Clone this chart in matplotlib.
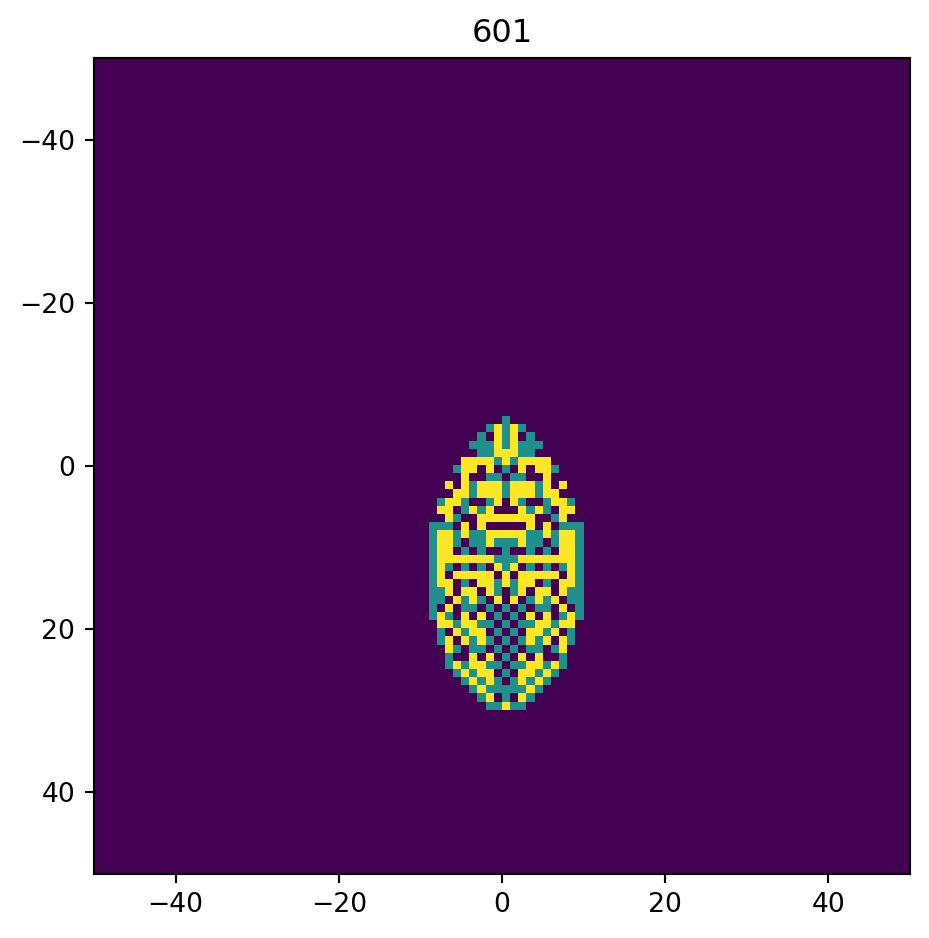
import numpy as np
import matplotlib
matplotlib.use("Agg")
import matplotlib.pyplot as plt

title = "601"
first_row = -6
# Right half of each row, from the centre column outwards: 0 empty, 1 teal, 2 yellow
half_rows = [
    "1", "121", "1201", "12111", "2211", "212222",
    "1020221", "011002", "12221202", "1222122", "021001221", "002121022",
    "22220012", "0002020111", "2221121221", "1121101221", "1001010221", "1122222221",
    "1201010121", "2022222021", "2122010221", "0120220211", "0201212011", "1010110201",
    "0102020121", "101122122", "010221201", "101212021", "01011012", "10202001",
    "01122121", "1022121", "012121", "11121", "1021", "211",
]
tick_values = [-40, -20, 0, 20, 40]

grid = np.zeros((100, 100))
for i, row in enumerate(half_rows):
    for c, ch in enumerate(row):
        grid[first_row + 50 + i, 50 + c] = int(ch)
        grid[first_row + 50 + i, 50 - c] = int(ch)

DPI = 192
fig = plt.figure(figsize=(929 / DPI, 938 / DPI), dpi=DPI)
ax = fig.add_axes([94 / 929, 1 - 873.5 / 938, 816 / 929, 815.5 / 938])
ax.imshow(grid, cmap="viridis", vmin=0, vmax=2, extent=[-50, 50, 50, -50],
          interpolation="nearest", aspect="auto")
ax.set_xticks(tick_values)
ax.set_yticks(tick_values)
ax.set_title(title)
fig.savefig("out.png", dpi=DPI)
